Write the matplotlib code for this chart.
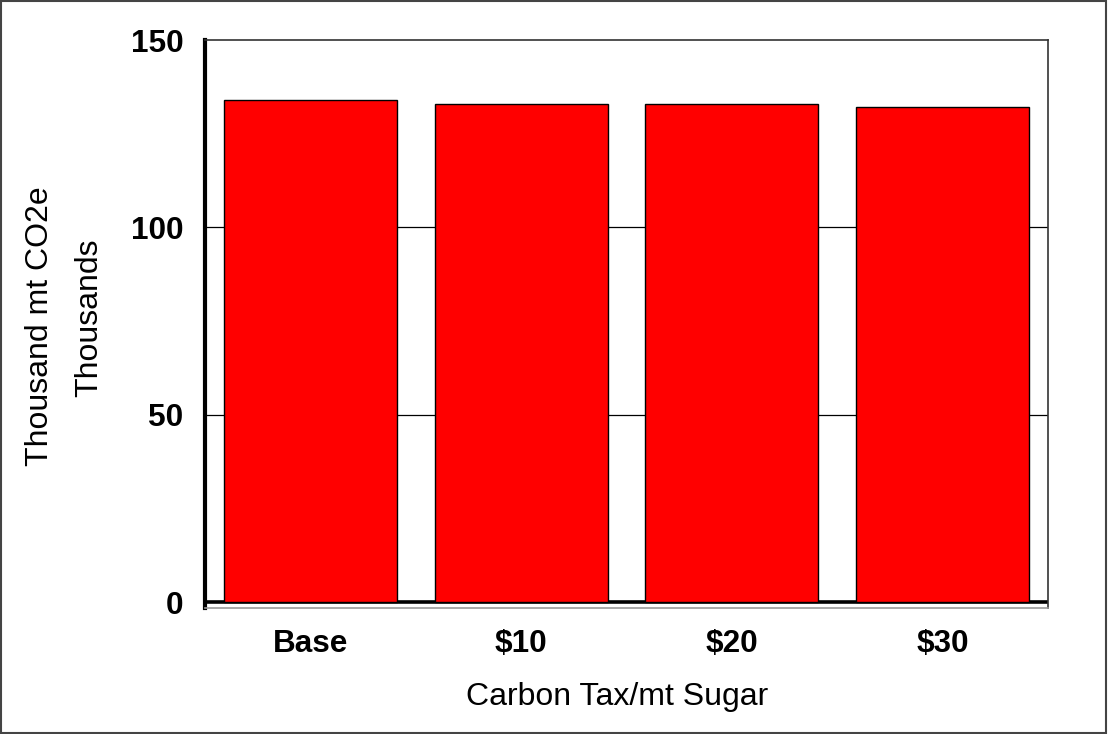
import matplotlib
matplotlib.use("Agg")
import matplotlib.pyplot as plt
from matplotlib.patches import Rectangle

plt.rcParams['font.family'] = ['Liberation Sans', 'DejaVu Sans']

categories = ["Base", "$10", "$20", "$30"]
emissions = [133.9, 133.0, 132.9, 132.1]
y_ticks = [0, 50, 100, 150]

W, H = 1108, 734
fig = plt.figure(figsize=(W / 100, H / 100), dpi=100)

# axes box in pixel coordinates
left, right, top, bottom = 205, 1048, 40, 608
ax = fig.add_axes([left / W, 1 - bottom / H, (right - left) / W, (bottom - top) / H])

x = list(range(len(categories)))
ax.bar(x, emissions, width=0.82, color="#FF0000", edgecolor="black",
       linewidth=1.0, zorder=3)

ax.set_xlim(-0.5, len(categories) - 0.5)
ax.set_ylim(-1.6, 150)

# horizontal gridlines
for v in y_ticks[1:-1]:
    ax.axhline(v, color="black", linewidth=0.9, zorder=1)
# zero baseline
ax.axhline(0, color="black", linewidth=2.6, zorder=2)

ax.set_yticks(y_ticks)
ax.set_yticklabels([str(v) for v in y_ticks], fontsize=22.7, fontweight="bold")
ax.set_xticks(x)
ax.set_xticklabels(categories, fontsize=22.7, fontweight="bold")
ax.tick_params(axis="y", length=0, pad=15.5)
ax.tick_params(axis="x", length=0, pad=15)

for side in ["top", "right"]:
    ax.spines[side].set_color("#333333")
    ax.spines[side].set_linewidth(1.2)
ax.spines["bottom"].set_color("#999999")
ax.spines["bottom"].set_linewidth(1.2)
ax.spines["left"].set_color("black")
ax.spines["left"].set_linewidth(3)

fig.text(40 / W, 1 - 326 / H, "Thousand mt CO2e", rotation=90, fontsize=23,
         ha="center", va="center")
fig.text(89 / W, 1 - 318 / H, "Thousands", rotation=90, fontsize=23,
         ha="center", va="center")
fig.text(617 / W, 1 - 697 / H, "Carbon Tax/mt Sugar", fontsize=23,
         ha="center", va="center")

# outer chart border
fig.patches.append(Rectangle((0.0012, 0.0015), 0.9968, 0.997, transform=fig.transFigure,
                             fill=False, edgecolor="#444444", linewidth=1.5))

fig.savefig("out.png", dpi=100, facecolor="white")
